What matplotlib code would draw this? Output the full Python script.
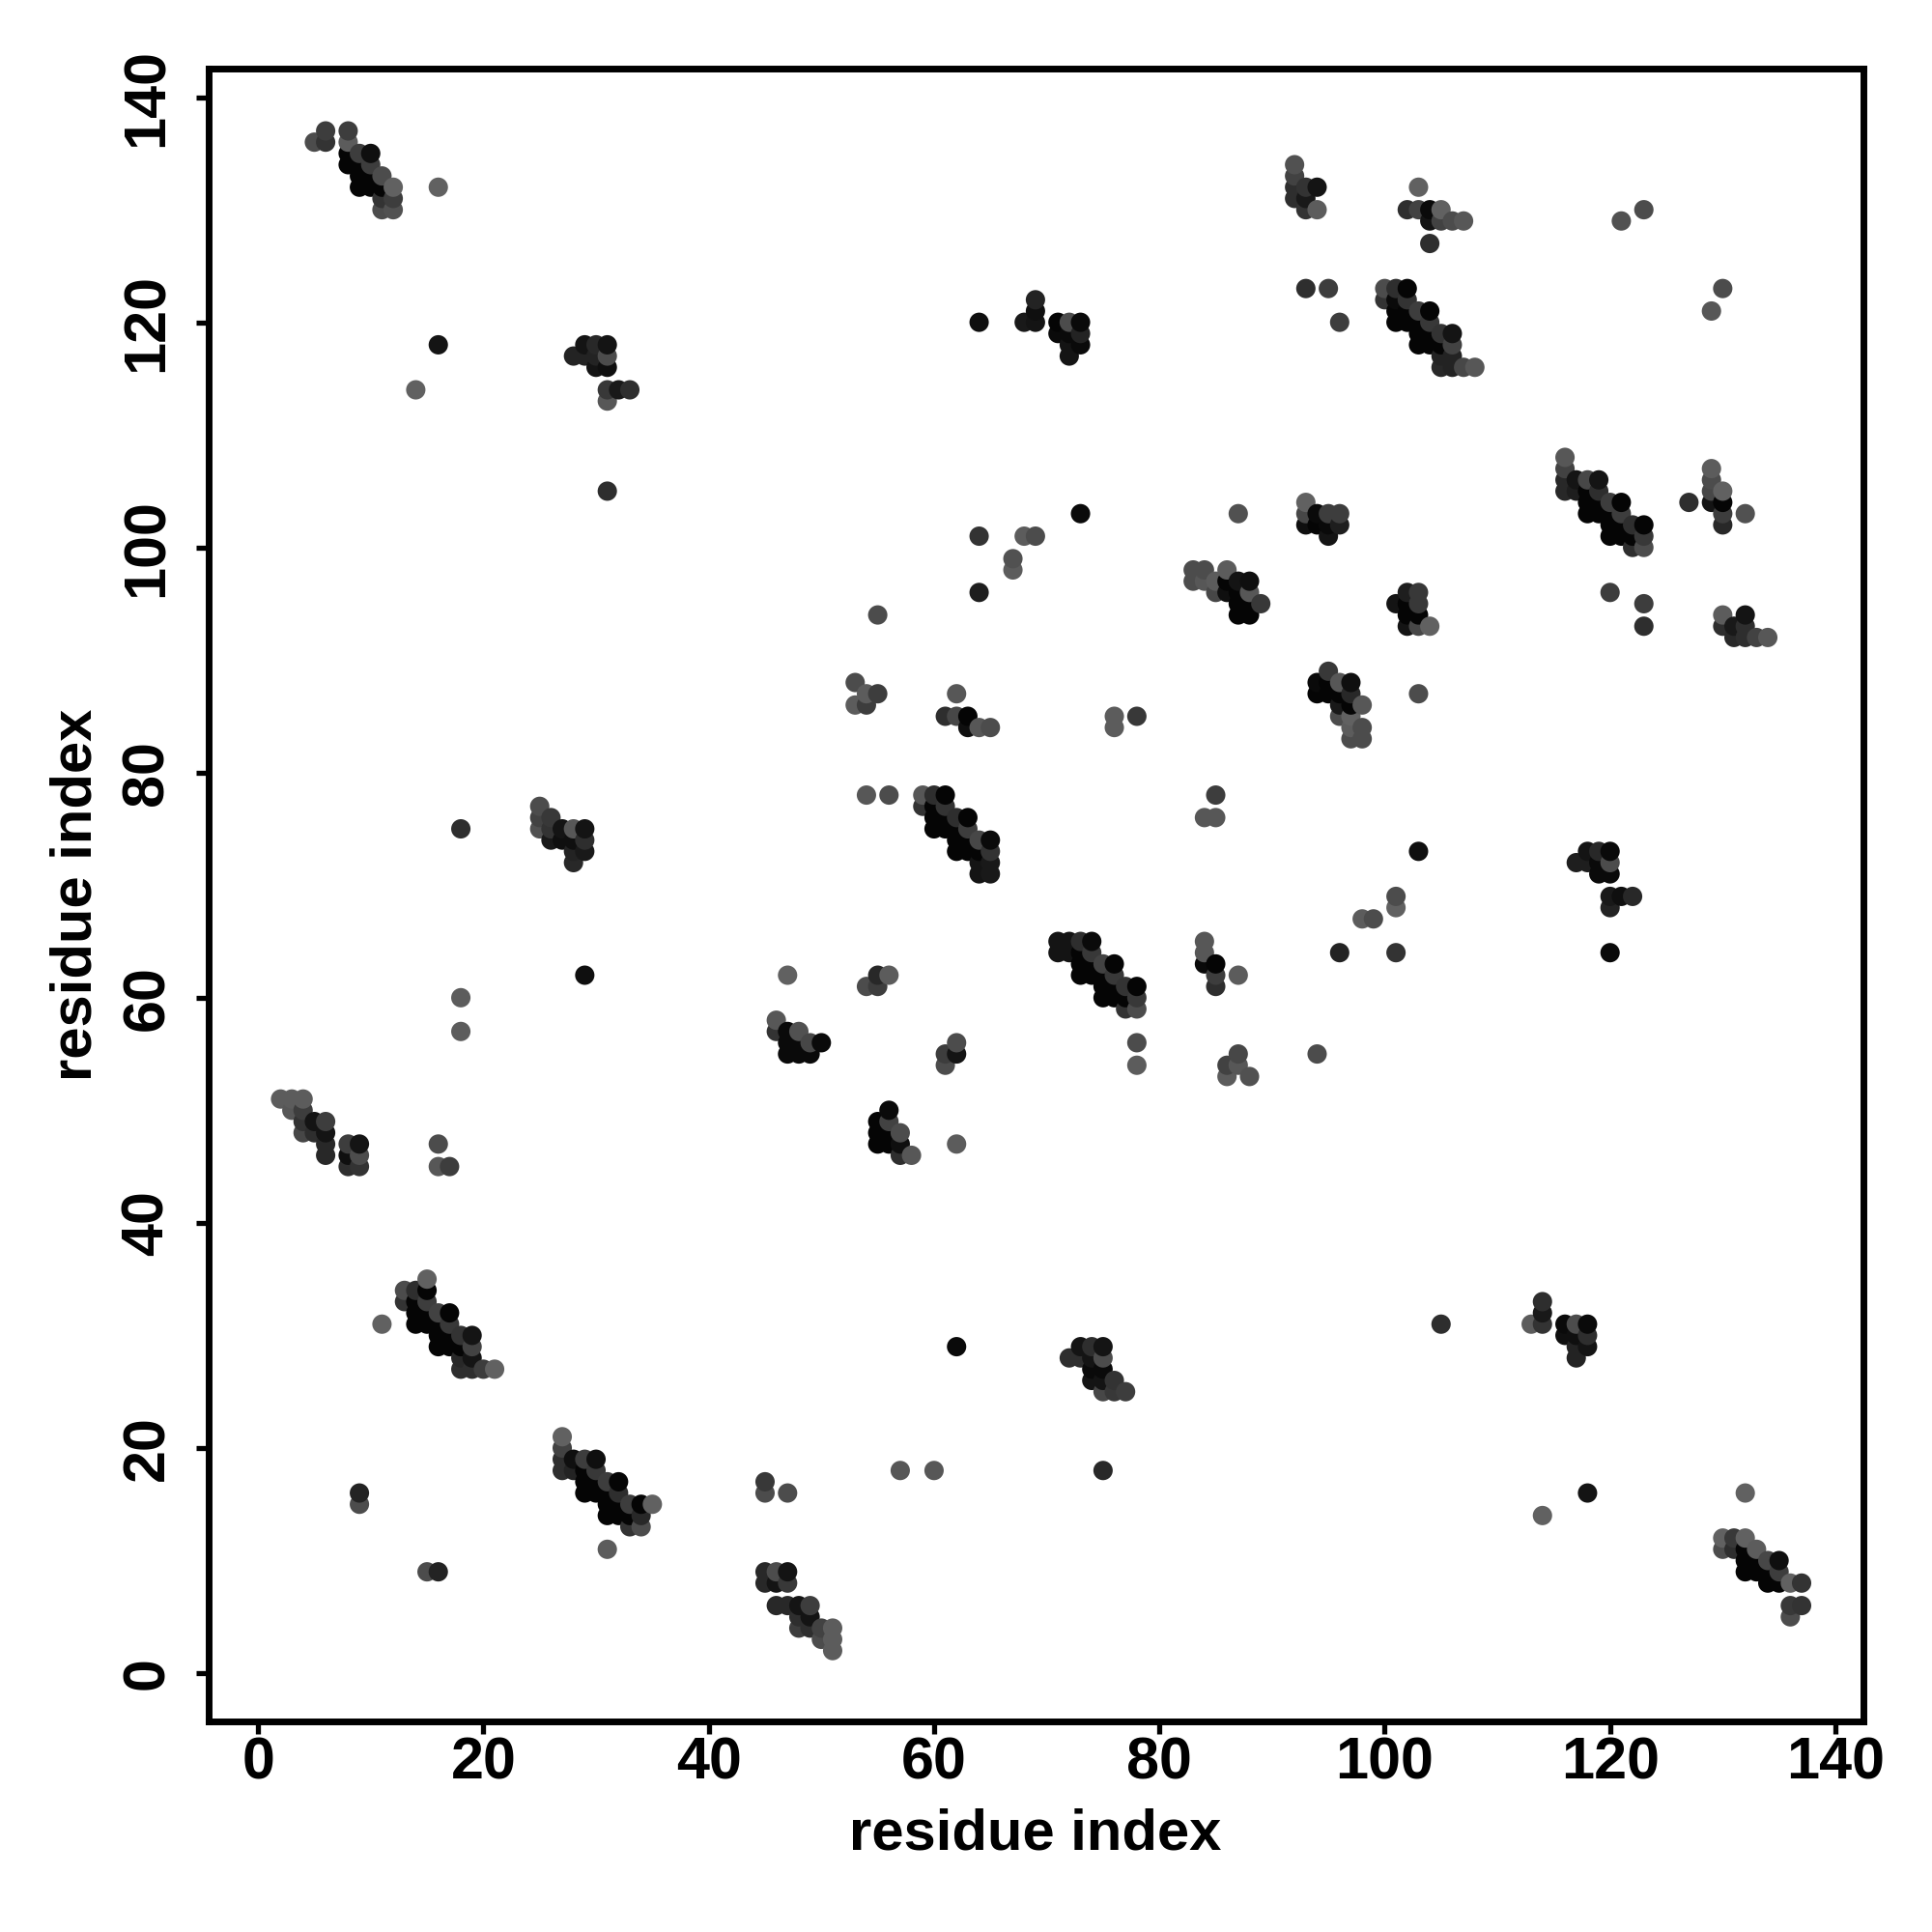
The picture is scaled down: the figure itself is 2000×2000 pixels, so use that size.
#!/usr/bin/env python3
"""Residue contact map, darker dots are stronger contacts."""

import matplotlib
matplotlib.use("Agg")
import matplotlib.pyplot as plt
import numpy as np

TICKS = [0, 20, 40, 60, 80, 100, 120, 140]

# one line per row of dots, the three lists line up
contact_x = [
    6, 8,  5, 6, 8,  8, 9, 10,  8, 9, 10,  9, 10, 11,  9, 10, 11, 12, 16,  11, 12,  11, 12,
    16, 29, 30, 31,  28, 29, 30, 31,  30, 31,  14, 31, 32, 33,  31,  31,
    69,  69,  64, 68, 69, 71, 72, 73,  71, 72, 73,  72, 73,  72,
    92,  92,  92, 93, 94, 103,  92, 93,  93, 94, 102, 103, 104, 105, 123,
    104, 105, 106, 107, 121,  104,
    93, 95, 100, 101, 102, 130,  100, 101, 102,  101, 102, 103, 104, 129,
    96, 101, 102, 103, 104,  103, 104, 105, 106,  103, 104, 105, 106,
    105, 106,  105, 106, 107, 108,
    116,  116, 129,  116, 117, 118, 119, 129,  116, 117, 118, 119, 129, 130,
    118, 119, 120, 121, 127, 129, 130,  118, 119, 120, 121, 130, 132,
    120, 121, 122, 123, 130,  120, 121, 122, 123,  122, 123,
    93,  93, 94, 95, 96,  93, 94, 95, 96,  95,
    73, 87,  64, 68, 69,  67,  67,  64,  55,
    83, 84, 86,  83, 84, 85, 86, 87, 88,  85, 86, 87, 88,  87, 88, 89,  87, 88,
    102, 103, 120,  101, 102, 103, 123,  102, 103, 130, 132,
    102, 103, 104, 123, 130, 131, 132,  131, 132, 133, 134,
    95,  53, 94, 95, 96, 97,  54, 55, 62, 94, 95, 96, 97, 103,
    53, 54, 96, 97, 98,  61, 62, 63, 76, 78, 96, 97,  63, 64, 65, 76, 97, 98,  97, 98,
    54, 56, 59, 60, 61, 85,  59, 60, 61,  60, 61, 62, 63, 84, 85,  60, 61, 62, 63,
    62, 63, 64, 65,  62, 63, 64, 65, 103,  64, 65,  64, 65,
    25,  25, 26,  18, 25, 26, 27, 28, 29,  26, 27, 28, 29,  28, 29,  28,
    118, 119, 120,  117, 118, 119, 120,  119, 120,  101, 120, 121, 122,  101, 120,  98, 99,
    71, 72, 73, 74, 84,  71, 72, 73, 74, 84, 96, 101, 120,  73, 74, 75, 76, 84, 85,
    29, 47, 55, 56, 73, 74, 75, 76, 85, 87,  54, 55, 75, 76, 77, 78, 85,
    18, 75, 76, 77, 78,  77, 78,  46,  18, 46, 47, 48,  47, 48, 49, 50, 62, 78,
    47, 48, 49, 61, 62, 87, 94,  61, 78, 86, 87,  86, 88,
    2, 3, 4,  3, 4, 56,  4, 5, 6, 55, 56,  4, 5, 6, 55, 56, 57,
    6, 8, 9, 16, 55, 56, 57, 62,  6, 8, 9, 57, 58,  8, 9, 16, 17,
    15,  13, 14, 15,  13, 14, 15, 114,  14, 15, 16, 17, 114,
    11, 14, 15, 16, 17, 105, 113, 114, 116, 117, 118,
    16, 17, 18, 19, 116, 117, 118,  16, 17, 18, 19, 62, 73, 74, 75, 117, 118,
    18, 19, 72, 73, 74, 75, 117,  18, 19, 20, 21, 74, 75,  74, 75, 76,  75, 76, 77,
    27,  27,  27, 28, 29, 30,  27, 28, 29, 30, 57, 60, 75,  29, 30, 31, 32, 45,
    9, 29, 30, 31, 32, 45, 47, 118, 132,  9, 31, 32, 33, 34, 35,  31, 32, 33, 34, 114,
    33, 34,  130, 131, 132,  31, 130, 131, 132, 133,  132, 133, 134, 135,
    15, 16, 45, 46, 47, 132, 133, 134, 135,  45, 46, 47, 134, 135, 136, 137,
    46, 47, 48, 49, 136, 137,  48, 49, 136,  48, 49, 50, 51,  50, 51,  51,
]
contact_y = [
    137, 137,  136, 136, 136,  135, 135, 135,  134, 134, 134,  133, 133, 133,  132, 132, 132, 132, 132,  131, 131,  130, 130,
    118, 118, 118, 118,  117, 117, 117, 117,  116, 116,  114, 114, 114, 114,  113,  105,
    122,  121,  120, 120, 120, 120, 120, 120,  119, 119, 119,  118, 118,  117,
    134,  133,  132, 132, 132, 132,  131, 131,  130, 130, 130, 130, 130, 130, 130,
    129, 129, 129, 129, 129,  127,
    123, 123, 123, 123, 123, 123,  122, 122, 122,  121, 121, 121, 121, 121,
    120, 120, 120, 120, 120,  119, 119, 119, 119,  118, 118, 118, 118,
    117, 117,  116, 116, 116, 116,
    108,  107, 107,  106, 106, 106, 106, 106,  105, 105, 105, 105, 105, 105,
    104, 104, 104, 104, 104, 104, 104,  103, 103, 103, 103, 103, 103,
    102, 102, 102, 102, 102,  101, 101, 101, 101,  100, 100,
    104,  103, 103, 103, 103,  102, 102, 102, 102,  101,
    103, 103,  101, 101, 101,  99,  98,  96,  94,
    98, 98, 98,  97, 97, 97, 97, 97, 97,  96, 96, 96, 96,  95, 95, 95,  94, 94,
    96, 96, 96,  95, 95, 95, 95,  94, 94, 94, 94,
    93, 93, 93, 93, 93, 93, 93,  92, 92, 92, 92,
    89,  88, 88, 88, 88, 88,  87, 87, 87, 87, 87, 87, 87, 87,
    86, 86, 86, 86, 86,  85, 85, 85, 85, 85, 85, 85,  84, 84, 84, 84, 84, 84,  83, 83,
    78, 78, 78, 78, 78, 78,  77, 77, 77,  76, 76, 76, 76, 76, 76,  75, 75, 75, 75,
    74, 74, 74, 74,  73, 73, 73, 73, 73,  72, 72,  71, 71,
    77,  76, 76,  75, 75, 75, 75, 75, 75,  74, 74, 74, 74,  73, 73,  72,
    73, 73, 73,  72, 72, 72, 72,  71, 71,  69, 69, 69, 69,  68, 68,  67, 67,
    65, 65, 65, 65, 65,  64, 64, 64, 64, 64, 64, 64, 64,  63, 63, 63, 63, 63, 63,
    62, 62, 62, 62, 62, 62, 62, 62, 62, 62,  61, 61, 61, 61, 61, 61, 61,
    60, 60, 60, 60, 60,  59, 59,  58,  57, 57, 57, 57,  56, 56, 56, 56, 56, 56,
    55, 55, 55, 55, 55, 55, 55,  54, 54, 54, 54,  53, 53,
    51, 51, 51,  50, 50, 50,  49, 49, 49, 49, 49,  48, 48, 48, 48, 48, 48,
    47, 47, 47, 47, 47, 47, 47, 47,  46, 46, 46, 46, 46,  45, 45, 45, 45,
    35,  34, 34, 34,  33, 33, 33, 33,  32, 32, 32, 32, 32,
    31, 31, 31, 31, 31, 31, 31, 31, 31, 31, 31,
    30, 30, 30, 30, 30, 30, 30,  29, 29, 29, 29, 29, 29, 29, 29, 29, 29,
    28, 28, 28, 28, 28, 28, 28,  27, 27, 27, 27, 27, 27,  26, 26, 26,  25, 25, 25,
    21,  20,  19, 19, 19, 19,  18, 18, 18, 18, 18, 18, 18,  17, 17, 17, 17, 17,
    16, 16, 16, 16, 16, 16, 16, 16, 16,  15, 15, 15, 15, 15, 15,  14, 14, 14, 14, 14,
    13, 13,  12, 12, 12,  11, 11, 11, 11, 11,  10, 10, 10, 10,
    9, 9, 9, 9, 9, 9, 9, 9, 9,  8, 8, 8, 8, 8, 8, 8,
    6, 6, 6, 6, 6, 6,  5, 5, 5,  4, 4, 4, 4,  3, 3,  2,
]
# grey level of each dot in percent, 0 is black
contact_grey = [
    24, 24,  30, 20, 36,  2, 24, 6,  2, 2, 24,  2, 2, 30,  2, 2, 2, 38, 38,  20, 24,  30, 32,
    8, 8, 16, 8,  14, 14, 14, 30,  8, 6,  38, 22, 10, 18,  34,  18,
    14,  6,  6, 10, 8, 2, 30, 4,  4, 4, 14,  8, 4,  8,
    32,  26,  18, 20, 8, 38,  18, 10,  20, 36, 18, 26, 4, 38, 30,
    8, 26, 30, 34, 32,  18,
    18, 24, 30, 18, 2, 30,  20, 4, 20,  2, 2, 24, 2, 34,
    24, 2, 2, 2, 22,  2, 2, 20, 8,  2, 2, 2, 26,
    14, 14,  16, 14, 28, 34,
    34,  26, 36,  16, 8, 28, 8, 30,  16, 12, 2, 18, 28, 38,
    2, 2, 24, 2, 18, 8, 2,  2, 2, 2, 24, 24, 32,
    2, 2, 18, 2, 16,  2, 2, 2, 22,  18, 30,
    38,  28, 4, 24, 24,  6, 2, 4, 12,  8,
    4, 32,  20, 36, 30,  32,  36,  12,  30,
    30, 30, 36,  30, 34, 36, 2, 8, 6,  28, 6, 2, 34,  2, 2, 22,  2, 2,
    12, 22, 24,  8, 2, 22, 24,  2, 2, 36, 8,
    8, 28, 38, 18, 18, 10, 18,  16, 18, 26, 34,
    22,  30, 4, 2, 34, 6,  36, 24, 34, 2, 2, 2, 16, 30,
    36, 24, 10, 2, 34,  18, 28, 2, 36, 22, 30, 38,  6, 34, 30, 36, 36, 30,  30, 30,
    34, 30, 34, 18, 2, 24,  20, 2, 20,  2, 2, 18, 2, 34, 34,  2, 2, 2, 24,
    2, 2, 28, 4,  2, 2, 2, 20, 6,  8, 10,  8, 10,
    30,  26, 22,  18, 32, 20, 8, 34, 8,  10, 6, 6, 18,  14, 10,  16,
    8, 16, 4,  12, 12, 4, 30,  4, 4,  30, 10, 6, 16,  38, 14,  36, 30,
    8, 8, 18, 4, 34,  8, 8, 2, 22, 34, 14, 20, 4,  2, 2, 26, 2, 4, 2,
    6, 38, 16, 36, 2, 2, 2, 22, 24, 36,  30, 24, 2, 2, 20, 2, 18,
    36, 2, 2, 2, 22,  20, 30,  34,  36, 20, 4, 32,  4, 4, 28, 4, 30, 30,
    4, 4, 4, 24, 8, 28, 30,  30, 36, 26, 34,  36, 32,
    36, 36, 36,  34, 24, 4,  20, 8, 24, 2, 26,  28, 18, 8, 2, 2, 30,
    16, 24, 8, 30, 2, 2, 6, 36,  16, 6, 30, 18, 34,  18, 20, 34, 24,
    38,  30, 18, 2,  20, 2, 24, 18,  2, 2, 26, 2, 10,
    38, 2, 2, 2, 22, 18, 36, 20, 4, 30, 4,
    2, 2, 20, 8, 6, 6, 18,  2, 2, 2, 26, 4, 8, 18, 8, 14, 8,
    16, 8, 18, 18, 8, 30, 14,  18, 18, 24, 38, 4, 4,  8, 8, 20,  28, 22, 24,
    38,  26,  18, 6, 24, 6,  18, 14, 2, 22, 34, 34, 16,  2, 2, 24, 2, 22,
    14, 2, 2, 2, 18, 30, 30, 8, 38,  30, 2, 2, 24, 2, 38,  2, 2, 2, 16, 38,
    20, 30,  38, 22, 38,  36, 30, 18, 2, 36,  2, 2, 28, 6,
    30, 14, 16, 30, 8, 2, 2, 2, 24,  16, 8, 22, 2, 2, 38, 20,
    16, 16, 8, 24, 22, 20,  18, 8, 30,  24, 18, 26, 36,  30, 36,  36,
]

plt.rcParams["font.family"] = ["Liberation Sans", "DejaVu Sans"]
plt.rcParams["font.weight"] = "bold"

x = np.array(contact_x)
y = np.array(contact_y)
grey = np.array(contact_grey) / 100.0

# later columns and higher rows sit on top
order = np.lexsort((y, x))

fig = plt.figure(figsize=(10, 10), dpi=200)
ax = fig.add_axes([169 / 1568, 1 - 1397 / 1568, (1512 - 169) / 1568, (1397 - 56) / 1568])
ax.scatter(x[order], y[order], c=grey[order], cmap="gray", vmin=0, vmax=1, s=52, linewidths=0, zorder=3)

ax.set_xlim(-4.42, 142.45)
ax.set_ylim(-4.28, 142.5)
ax.set_xticks(TICKS)
ax.set_yticks(TICKS)
ax.tick_params(axis="x", length=4.6, width=1.9, labelsize=22, pad=1)
ax.tick_params(axis="y", length=4.6, width=1.9, labelsize=22, pad=7.5)
plt.setp(ax.get_yticklabels(), rotation=90, va="center")
ax.set_xlabel("residue index", fontsize=21.5, fontweight="bold", labelpad=6)
ax.set_ylabel("residue index", fontsize=21.5, fontweight="bold", labelpad=6.5)
for side in ax.spines.values():
    side.set_linewidth(2.5)

fig.savefig("out.png", dpi=200)
plt.close(fig)
